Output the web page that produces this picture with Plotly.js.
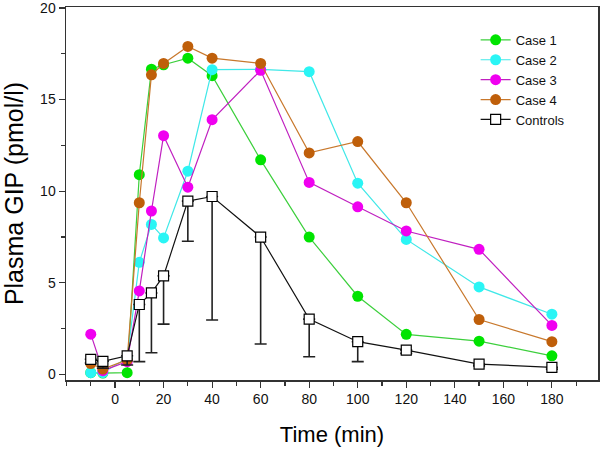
<!DOCTYPE html>
<html>
<head>
<meta charset="utf-8">
<script src="https://cdn.plot.ly/plotly-3.0.1.min.js"></script>
<style>html,body{margin:0;padding:0;background:#fff}#chart{width:601px;height:453px}</style>
</head>
<body>
<div id="chart"></div>
<script>
const time = [-10, -5, 5, 10, 15, 20, 30, 40, 60, 80, 100, 120, 150, 180];
const case1 = [0.1, 0.08, 0.1, 10.9, 16.66, 16.9, 17.26, 16.3, 11.71, 7.5, 4.27, 2.19, 1.82, 1.02];
const case2 = [0.1, 0.1, 0.9, 6.12, 8.19, 7.45, 11.09, 16.63, 16.65, 16.52, 10.44, 7.37, 4.78, 3.29];
const case3 = [2.2, 0.21, 0.7, 4.56, 8.92, 13.03, 10.22, 13.9, 16.6, 10.48, 9.15, 7.83, 6.83, 2.68];
const case4 = [0.6, 0.3, 0.8, 9.37, 16.35, 16.97, 17.9, 17.26, 16.97, 12.09, 12.71, 9.37, 3.0, 1.79];
const controls = [0.83, 0.72, 1.02, 3.82, 4.45, 5.38, 9.46, 9.71, 7.5, 3.02, 1.79, 1.33, 0.57, 0.39];
const controlsLowerErr = [0.2, 0.37, 0.5, 3.12, 3.26, 2.63, 2.19, 6.74, 5.84, 2.05, 1.09, 0.18, 0.1, 0.1];
const controlsUpperErr = [0, 0, 0, 0, 0, 0, 0, 0, 0, 0, 0, 0, 0, 0];
const seriesNames = ['Case 1', 'Case 2', 'Case 3', 'Case 4', 'Controls'];
const xTickVals = [0, 20, 40, 60, 80, 100, 120, 140, 160, 180];
const xMinorVals = [-20, -10, 10, 30, 50, 70, 90, 110, 130, 150, 170, 190];
const yTickVals = [0, 5, 10, 15, 20];
const yMinorVals = [2.5, 7.5, 12.5, 17.5];

const FONT = 'Liberation Sans, Arial, sans-serif';
function caseTrace(name, y, markerColor, lineColor) {
  return {
    x: time, y: y, name: name, type: 'scatter', mode: 'lines+markers',
    line: {color: lineColor, width: 1.2},
    marker: {symbol: 'circle', size: 11, color: markerColor, line: {width: 0}}
  };
}
const data = [
  caseTrace(seriesNames[0], case1, '#00e400', '#3ccf3c'),
  caseTrace(seriesNames[1], case2, '#2af5f5', '#40e8e8'),
  caseTrace(seriesNames[2], case3, '#f000f0', '#c020c0'),
  caseTrace(seriesNames[3], case4, '#bf5f0a', '#c8782c'),
  {
    x: time, y: controls, name: seriesNames[4], type: 'scatter', mode: 'lines+markers',
    line: {color: '#111', width: 1.2},
    marker: {symbol: 'square', size: 10, color: '#fff', line: {color: '#000', width: 1.2}},
    error_y: {type: 'data', symmetric: false, array: controlsUpperErr, arrayminus: controlsLowerErr,
              color: '#222', thickness: 1.6, width: 6}
  }
];
const layout = {
  width: 601, height: 453,
  margin: {l: 66, r: 3, t: 7, b: 73},
  paper_bgcolor: '#fff', plot_bgcolor: '#fff',
  font: {family: FONT, color: '#000', size: 14},
  showlegend: true,
  legend: {x: 0.77, y: 0.952, xanchor: 'left', yanchor: 'top', bgcolor: 'rgba(0,0,0,0)',
           font: {family: FONT, size: 13, color: '#111'}, tracegroupgap: 0},
  xaxis: {
    range: [-20.2, 199], showgrid: false, zeroline: false,
    showline: true, linecolor: '#333', linewidth: 1.5, mirror: true,
    ticks: 'outside', ticklen: 6, tickwidth: 1.2, tickcolor: '#333',
    tickmode: 'array', tickvals: xTickVals, ticktext: xTickVals.map(String),
    tickfont: {family: FONT, size: 14, color: '#111'}, ticklabeloverflow: 'allow',
    minor: {tickmode: 'array', tickvals: xMinorVals, ticks: 'outside', ticklen: 4, tickwidth: 1.2, tickcolor: '#333', showgrid: false},
    title: {text: 'Time (min)', font: {family: FONT, size: 22, color: '#000'}, standoff: 20}
  },
  yaxis: {
    range: [-0.3, 20.05], showgrid: false, zeroline: false,
    showline: true, linecolor: '#333', linewidth: 1.5, mirror: true,
    ticks: 'outside', ticklen: 6, tickwidth: 1.2, tickcolor: '#333',
    tickmode: 'array', tickvals: yTickVals, ticktext: yTickVals.map(String),
    tickfont: {family: FONT, size: 14, color: '#111'}, ticklabeloverflow: 'allow',
    minor: {tickmode: 'array', tickvals: yMinorVals, ticks: 'outside', ticklen: 4, tickwidth: 1.2, tickcolor: '#333', showgrid: false},
    title: {text: 'Plasma GIP (pmol/l)', font: {family: FONT, size: 25, color: '#000'}, standoff: 10}
  }
};
Plotly.newPlot('chart', data, layout, {displayModeBar: false, staticPlot: true});
</script>
</body>
</html>
